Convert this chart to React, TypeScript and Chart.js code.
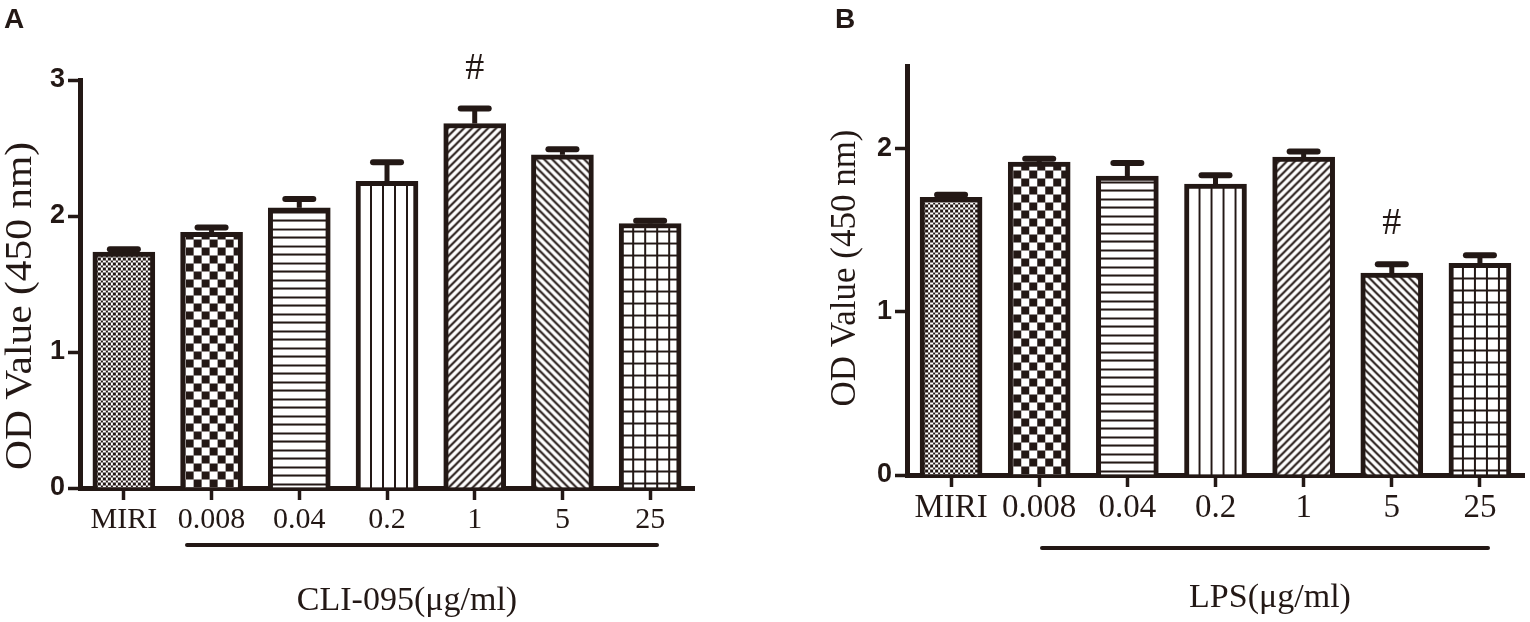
import React, { useEffect, useRef } from 'react';
import { Chart, registerables } from 'chart.js';

Chart.register(...registerables);

// ---------- data ----------
const categories = ['MIRI', '0.008', '0.04', '0.2', '1', '5', '25'];

const cliMeans = [1.735, 1.88, 2.06, 2.255, 2.68, 2.45, 1.945];
const cliErrors = [0.02, 0.035, 0.065, 0.14, 0.11, 0.04, 0.02];
const cliMarks = ['', '', '', '', '#', '', ''];
const cliYTicks = [0, 1, 2, 3];
const cliYMax = 3;

const lpsMeans = [1.7, 1.915, 1.83, 1.78, 1.945, 1.235, 1.295];
const lpsErrors = [0.015, 0.02, 0.08, 0.055, 0.035, 0.055, 0.05];
const lpsMarks = ['', '', '', '', '', '#', ''];
const lpsYTicks = [0, 1, 2];
const lpsYMax = 2.5;

const patternKinds = ['fineChecker', 'checker', 'hlines', 'vlines', 'diagUp', 'diagDown', 'grid'];

// ---------- style ----------
const INK = '#231815';
const SERIF = "'Liberation Serif', 'Times New Roman', serif";
const SANS = "'Liberation Sans', Arial, sans-serif";

type PanelCfg = {
  left: number;
  width: number;
  letter: string;
  letterX: number;
  means: number[];
  errors: number[];
  marks: string[];
  yTicks: number[];
  yMax: number;
  padTop: number;
  padRight: number;
  yAxisWidth: number;
  xAxisHeight: number;
  xTickSize: number;
  xTitle: string;
  xTitleX: number;
  xTitleY: number;
  xTitleSize: number;
  yTitle: string;
  yTitleX: number;
  yTitleY: number;
  yTitleSize: number;
  yTitleStretch: number;
  underline: [number, number, number];
};

const panelA: PanelCfg = {
  left: 0,
  width: 760,
  letter: 'A',
  letterX: 4,
  means: cliMeans,
  errors: cliErrors,
  marks: cliMarks,
  yTicks: cliYTicks,
  yMax: cliYMax,
  padTop: 80,
  padRight: 66,
  yAxisWidth: 80,
  xAxisHeight: 134,
  xTickSize: 30,
  xTitle: 'CLI-095(μg/ml)',
  xTitleX: 407,
  xTitleY: 610,
  xTitleSize: 34,
  yTitle: 'OD Value (450 nm)',
  yTitleX: 21,
  yTitleY: 306,
  yTitleSize: 37,
  yTitleStretch: 1.12,
  underline: [187, 657, 545],
};

const panelB: PanelCfg = {
  left: 760,
  width: 770,
  letter: 'B',
  letterX: 75,
  means: lpsMeans,
  errors: lpsErrors,
  marks: lpsMarks,
  yTicks: lpsYTicks,
  yMax: lpsYMax,
  padTop: 66.5,
  padRight: 6,
  yAxisWidth: 147,
  xAxisHeight: 147,
  xTickSize: 33,
  xTitle: 'LPS(μg/ml)',
  xTitleX: 510,
  xTitleY: 607,
  xTitleSize: 34,
  yTitle: 'OD Value (450 nm)',
  yTitleX: 86,
  yTitleY: 268,
  yTitleSize: 35,
  yTitleStretch: 1.0,
  underline: [282, 728, 548],
};

// ---------- patterns ----------
type Pat = { pattern: CanvasPattern; dx: number; dy: number };

function makePattern(ctx: CanvasRenderingContext2D, kind: string): Pat {
  const c = document.createElement('canvas');
  let w = 8;
  let h = 8;
  let dx = 0;
  let dy = 0;
  if (kind === 'fineChecker') { w = 10; h = 10; }
  if (kind === 'checker') { w = 16; h = 16; }
  if (kind === 'hlines') { w = 4; h = 17; dy = -4; }
  if (kind === 'vlines') { w = 12; h = 4; dx = 9; }
  if (kind === 'diagUp' || kind === 'diagDown') { w = 8; h = 8; }
  if (kind === 'grid') { w = 12; h = 12; dx = 8; dy = -5; }
  c.width = w;
  c.height = h;
  const g = c.getContext('2d')!;
  g.fillStyle = '#ffffff';
  g.fillRect(0, 0, w, h);
  g.fillStyle = INK;
  g.strokeStyle = INK;
  if (kind === 'fineChecker') {
    const b = [0, 3, 5, 8, 10];
    for (let i = 0; i < 4; i++) {
      for (let j = 0; j < 4; j++) {
        if ((i + j) % 2 === 0) g.fillRect(b[i], b[j], b[i + 1] - b[i], b[j + 1] - b[j]);
      }
    }
  } else if (kind === 'checker') {
    g.fillRect(0, 0, 8, 8);
    g.fillRect(8, 8, 8, 8);
  } else if (kind === 'hlines') {
    g.fillRect(0, 0, w, 2);
    g.fillRect(0, 8, w, 2);
  } else if (kind === 'vlines') {
    g.fillRect(0, 0, 2, h);
  } else if (kind === 'diagUp') {
    g.lineWidth = 2;
    g.beginPath();
    g.moveTo(-2, h + 2); g.lineTo(w + 2, -2);
    g.moveTo(-2, 2); g.lineTo(2, -2);
    g.moveTo(w - 2, h + 2); g.lineTo(w + 2, h - 2);
    g.stroke();
  } else if (kind === 'diagDown') {
    g.lineWidth = 2;
    g.beginPath();
    g.moveTo(-2, -2); g.lineTo(w + 2, h + 2);
    g.moveTo(w - 2, -2); g.lineTo(w + 2, 2);
    g.moveTo(-2, h - 2); g.lineTo(2, h + 2);
    g.stroke();
  } else if (kind === 'grid') {
    g.fillRect(0, 0, 2, h);
    g.fillRect(0, 0, w, 2);
  }
  const pattern = ctx.createPattern(c, 'repeat')!;
  return { pattern, dx, dy };
}

// ---------- panel ----------
function Panel({ cfg }: { cfg: PanelCfg }) {
  const ref = useRef<HTMLCanvasElement>(null);

  useEffect(() => {
    const canvas = ref.current!;
    const ctx = canvas.getContext('2d')!;
    const pats = patternKinds.map((k) => makePattern(ctx, k));
    const BORDER = 5;

    const panelPlugin = {
      id: 'panelDecor',
      beforeDatasetsDraw(chart: any) {
        const meta = chart.getDatasetMeta(0);
        meta.data.forEach((bar: any, i: number) => {
          const p = pats[i];
          const innerLeft = bar.x - bar.width / 2 + BORDER;
          const m = new DOMMatrix([1, 0, 0, 1, innerLeft + p.dx, bar.base + p.dy]);
          p.pattern.setTransform(m);
        });
      },
      afterDatasetsDraw(chart: any) {
        const c = chart.ctx as CanvasRenderingContext2D;
        const y = chart.scales.y;
        const meta = chart.getDatasetMeta(0);
        c.save();
        c.strokeStyle = INK;
        c.fillStyle = INK;
        meta.data.forEach((bar: any, i: number) => {
          const top = y.getPixelForValue(cfg.means[i] + cfg.errors[i]);
          c.lineWidth = 5;
          c.lineCap = 'butt';
          c.beginPath();
          c.moveTo(bar.x, bar.y);
          c.lineTo(bar.x, top);
          c.stroke();
          c.lineWidth = 6;
          c.lineCap = 'round';
          c.beginPath();
          c.moveTo(bar.x - 14, top);
          c.lineTo(bar.x + 14, top);
          c.stroke();
          if (cfg.marks[i]) {
            c.font = `38px ${SERIF}`;
            c.textAlign = 'center';
            c.textBaseline = 'middle';
            c.fillText(cfg.marks[i], bar.x, top - 40);
          }
        });
        c.restore();
      },
      afterDraw(chart: any) {
        const c = chart.ctx as CanvasRenderingContext2D;
        c.save();
        c.fillStyle = INK;
        c.strokeStyle = INK;
        // panel letter
        c.font = `bold 28px ${SANS}`;
        c.textAlign = 'left';
        c.textBaseline = 'alphabetic';
        c.fillText(cfg.letter, cfg.letterX, 28);
        // group underline
        const [ux1, ux2, uy] = cfg.underline;
        c.lineWidth = 4;
        c.lineCap = 'round';
        c.beginPath();
        c.moveTo(ux1, uy);
        c.lineTo(ux2, uy);
        c.stroke();
        // x title
        c.font = `${cfg.xTitleSize}px ${SERIF}`;
        c.textAlign = 'center';
        c.textBaseline = 'alphabetic';
        c.fillText(cfg.xTitle, cfg.xTitleX, cfg.xTitleY);
        // y title
        c.translate(cfg.yTitleX, cfg.yTitleY);
        c.rotate(-Math.PI / 2);
        c.scale(cfg.yTitleStretch, 1);
        c.font = `${cfg.yTitleSize}px ${SERIF}`;
        c.textAlign = 'center';
        c.textBaseline = 'middle';
        c.fillText(cfg.yTitle, 0, 0);
        c.restore();
      },
    };

    const gridOpts = {
      display: true,
      drawOnChartArea: false,
      drawTicks: true,
      tickLength: 12,
      tickWidth: 3.5,
      tickColor: INK,
      offset: false,
    };

    const chart = new Chart(canvas, {
      type: 'bar',
      data: {
        labels: categories,
        datasets: [
          {
            data: cfg.means,
            backgroundColor: pats.map((p) => p.pattern) as any,
            borderColor: INK,
            borderWidth: BORDER,
            borderSkipped: 'start',
            barThickness: 62,
          },
        ],
      },
      options: {
        animation: false,
        responsive: false,
        events: [],
        layout: { padding: { left: 0, top: cfg.padTop, right: cfg.padRight, bottom: 0 } },
        plugins: {
          legend: { display: false },
          tooltip: { enabled: false },
          title: { display: false },
        },
        scales: {
          x: {
            type: 'category',
            offset: true,
            z: 1,
            grid: gridOpts as any,
            border: { display: true, color: INK, width: 5 },
            ticks: {
              color: INK,
              font: { family: SERIF, size: cfg.xTickSize },
              padding: 2,
              autoSkip: false,
              maxRotation: 0,
            },
            afterFit: (s: any) => {
              s.height = cfg.xAxisHeight;
            },
          },
          y: {
            type: 'linear',
            min: 0,
            max: cfg.yMax,
            z: 1,
            afterBuildTicks: (s: any) => {
              s.ticks = cfg.yTicks.map((v) => ({ value: v }));
            },
            grid: gridOpts as any,
            border: { display: true, color: INK, width: 5 },
            ticks: {
              color: INK,
              font: { family: SANS, size: 27, weight: 'bold' },
              padding: 3,
            },
            afterFit: (s: any) => {
              s.width = cfg.yAxisWidth;
            },
          },
        },
      },
      plugins: [panelPlugin],
    });

    return () => chart.destroy();
  }, [cfg]);

  return (
    <canvas
      ref={ref}
      width={cfg.width}
      height={622}
      style={{ position: 'absolute', left: cfg.left, top: 0, width: cfg.width, height: 622 }}
    />
  );
}

export default function App() {
  return (
    <div
      style={{
        position: 'absolute',
        left: 0,
        top: 0,
        width: 1530,
        height: 622,
        background: '#ffffff',
        overflow: 'hidden',
      }}
    >
      <Panel cfg={panelA} />
      <Panel cfg={panelB} />
    </div>
  );
}
